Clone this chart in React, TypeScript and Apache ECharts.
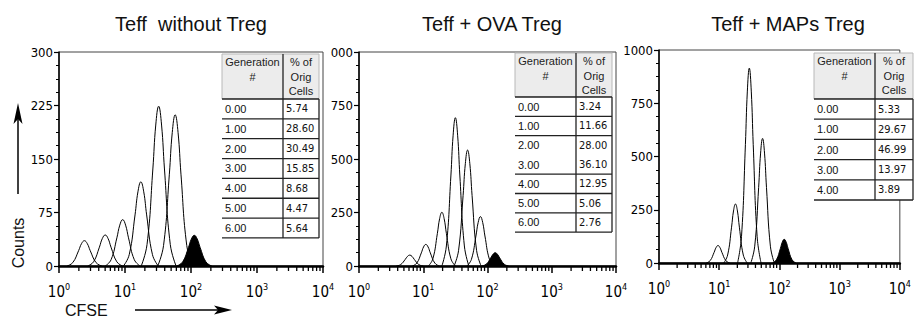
import React, { useEffect, useRef } from 'react';
import * as echarts from 'echarts';

// ---------- data ----------
const titles = ['Teff  without Treg', 'Teff + OVA Treg', 'Teff + MAPs Treg'];
const xTickExponents = [0, 1, 2, 3, 4];
const yMaxes = [300, 1000, 1000];
const yIntervals = [75, 250, 250];

// peaks: [log10(CFSE), counts]
const noTregPeaks: number[][][] = [
  [[0.121, 0], [0.209, 4.8], [0.297, 21.5], [0.341, 31.3], [0.385, 35.5], [0.429, 31.3], [0.473, 21.5], [0.561, 4.8], [0.649, 0]],
  [[0.436, 0], [0.524, 5.9], [0.612, 26.4], [0.656, 38.4], [0.70, 43.5], [0.744, 38.4], [0.788, 26.4], [0.876, 5.9], [0.964, 0]],
  [[0.701, 0], [0.789, 8.8], [0.877, 39.5], [0.921, 57.3], [0.965, 65], [1.009, 57.3], [1.053, 39.5], [1.141, 8.8], [1.229, 0]],
  [[0.976, 0], [1.064, 15.9], [1.152, 71.6], [1.196, 104], [1.24, 118], [1.284, 104], [1.328, 71.6], [1.416, 15.9], [1.504, 0]],
  [[1.246, 0], [1.334, 30.2], [1.422, 136], [1.466, 197.6], [1.51, 224], [1.554, 197.6], [1.598, 136], [1.686, 30.2], [1.774, 0]],
  [[1.496, 0], [1.584, 28.6], [1.672, 128.7], [1.716, 187], [1.76, 212], [1.804, 187], [1.848, 128.7], [1.936, 28.6], [2.024, 0]],
];
const noTregParent: number[][] = [[1.786, 0], [1.874, 5.8], [1.962, 26.1], [2.006, 37.9], [2.05, 43], [2.094, 37.9], [2.138, 26.1], [2.226, 5.8], [2.314, 0]];

const ovaPeaks: number[][][] = [
  [[0.58, 0], [0.65, 6.9], [0.72, 31], [0.755, 45], [0.79, 51], [0.825, 45], [0.86, 31], [0.93, 6.9], [1.0, 0]],
  [[0.83, 0], [0.90, 13.6], [0.97, 61.3], [1.005, 89.1], [1.04, 101], [1.075, 89.1], [1.11, 61.3], [1.18, 13.6], [1.25, 0]],
  [[1.08, 0], [1.15, 33.9], [1.22, 152.4], [1.255, 221.4], [1.29, 251], [1.325, 221.4], [1.36, 152.4], [1.43, 33.9], [1.5, 0]],
  [[1.29, 0], [1.36, 93.6], [1.43, 420.7], [1.465, 611.2], [1.5, 693], [1.535, 611.2], [1.57, 420.7], [1.64, 93.6], [1.71, 0]],
  [[1.48, 0], [1.55, 73.2], [1.62, 329], [1.655, 478], [1.69, 542], [1.725, 478], [1.76, 329], [1.83, 73.2], [1.9, 0]],
  [[1.68, 0], [1.75, 31.2], [1.82, 140.2], [1.855, 203.7], [1.89, 231], [1.925, 203.7], [1.96, 140.2], [2.03, 31.2], [2.1, 0]],
];
const ovaParent: number[][] = [[1.91, 0], [1.98, 8.4], [2.05, 37.6], [2.085, 54.7], [2.12, 62], [2.155, 54.7], [2.19, 37.6], [2.26, 8.4], [2.33, 0]];

const mapsPeaks: number[][][] = [
  [[0.785, 0], [0.85, 11.1], [0.915, 49.8], [0.9475, 72.3], [0.98, 82], [1.0125, 72.3], [1.045, 49.8], [1.11, 11.1], [1.175, 0]],
  [[1.075, 0], [1.14, 37.4], [1.205, 168.1], [1.2375, 244.3], [1.27, 277], [1.3025, 244.3], [1.335, 168.1], [1.4, 37.4], [1.465, 0]],
  [[1.305, 0], [1.37, 123.5], [1.435, 555.4], [1.4675, 807], [1.5, 915], [1.5325, 807], [1.565, 555.4], [1.63, 123.5], [1.695, 0]],
  [[1.525, 0], [1.59, 79], [1.655, 355.1], [1.6875, 516], [1.72, 585], [1.7525, 516], [1.785, 355.1], [1.85, 79], [1.915, 0]],
];
const mapsParent: number[][] = [[1.885, 0], [1.95, 15], [2.015, 67.4], [2.0475, 97.9], [2.08, 111], [2.1125, 97.9], [2.145, 67.4], [2.21, 15], [2.275, 0]];

const tableHeader1 = ['Generation', '#'];
const tableHeader2 = ['% of', 'Orig', 'Cells'];
const noTregGen = ['0.00', '1.00', '2.00', '3.00', '4.00', '5.00', '6.00'];
const noTregPct = ['5.74', '28.60', '30.49', '15.85', '8.68', '4.47', '5.64'];
const ovaGen = ['0.00', '1.00', '2.00', '3.00', '4.00', '5.00', '6.00'];
const ovaPct = ['3.24', '11.66', '28.00', '36.10', '12.95', '5.06', '2.76'];
const mapsGen = ['0.00', '1.00', '2.00', '3.00', '4.00'];
const mapsPct = ['5.33', '29.67', '46.99', '13.97', '3.89'];

// ---------- layout ----------
const grids = [
  { left: 59, top: 52, width: 264, height: 214 },
  { left: 359, top: 52, width: 257, height: 214 },
  { left: 659, top: 50, width: 260, height: 213 },
];
const titleX = [191, 492, 788];
const tables = [
  { x0: 222, x1: 283, x2: 319, top: 54, hdr: 99, rowH: 19.85, gen: noTregGen, pct: noTregPct, skip: [] as number[] },
  { x0: 515, x1: 576, x2: 612, top: 53, hdr: 97, rowH: 19.3, gen: ovaGen, pct: ovaPct, skip: [2] },
  { x0: 814, x1: 875, x2: 913, top: 53, hdr: 99, rowH: 20.2, gen: mapsGen, pct: mapsPct, skip: [] as number[] },
];

const narrow = "'Liberation Sans Narrow', 'Arial Narrow', 'DejaVu Sans Condensed', 'Liberation Sans', sans-serif";
const sans = "'Liberation Sans', Arial, sans-serif";

function buildTable(t: typeof tables[0]) {
  const els: any[] = [];
  const bottom = t.hdr + t.rowH * t.gen.length;
  els.push({ type: 'rect', shape: { x: t.x0, y: t.top, width: t.x2 - t.x0, height: t.hdr - t.top }, style: { fill: '#ececec', stroke: '#b8b8b8', lineWidth: 1 }, z: 10 });
  els.push({ type: 'rect', shape: { x: t.x0, y: t.hdr, width: t.x2 - t.x0, height: bottom - t.hdr }, style: { fill: '#fff' }, z: 10 });
  els.push({ type: 'line', shape: { x1: t.x1, y1: t.top, x2: t.x1, y2: bottom }, style: { stroke: '#222', lineWidth: 1.3 }, z: 12 });
  els.push({ type: 'line', shape: { x1: t.x2, y1: t.hdr, x2: t.x2, y2: bottom }, style: { stroke: '#222', lineWidth: 1.3 }, z: 12 });
  els.push({ type: 'line', shape: { x1: t.x0, y1: t.hdr, x2: t.x2, y2: t.hdr }, style: { stroke: '#222', lineWidth: 1.3 }, z: 12 });
  t.gen.forEach((_, i) => {
    if (t.skip.indexOf(i) >= 0) return;
    const y = t.hdr + t.rowH * (i + 1);
    els.push({ type: 'line', shape: { x1: t.x0, y1: y, x2: t.x2, y2: y }, style: { stroke: '#222', lineWidth: 1.3 }, z: 12 });
  });
  const c1 = (t.x0 + t.x1) / 2;
  const c2 = (t.x1 + t.x2) / 2;
  tableHeader1.forEach((s, i) => {
    els.push({ type: 'text', x: c1, y: t.top + 8 + i * 14.5, style: { text: s, font: `11px ${sans}`, fill: '#222', align: 'center', verticalAlign: 'middle' }, z: 13 });
  });
  tableHeader2.forEach((s, i) => {
    els.push({ type: 'text', x: c2, y: t.top + 8 + i * 14.5, style: { text: s, font: `11px ${sans}`, fill: '#222', align: 'center', verticalAlign: 'middle' }, z: 13 });
  });
  t.gen.forEach((g, i) => {
    const y = t.hdr + t.rowH * (i + 0.5);
    els.push({ type: 'text', x: t.x0 + 3, y, style: { text: g, font: `11px ${sans}`, fill: '#111', align: 'left', verticalAlign: 'middle' }, z: 13 });
    els.push({ type: 'text', x: t.x1 + 3, y, style: { text: t.pct[i], font: `11px ${narrow}`, fill: '#111', align: 'left', verticalAlign: 'middle' }, z: 13 });
  });
  return els;
}

export default function App() {
  const ref = useRef<HTMLDivElement>(null);
  useEffect(() => {
    if (!ref.current) return;
    const chart = echarts.init(ref.current, undefined, { renderer: 'svg' });

    const minorTicks: number[][] = [];
    for (let d = 0; d < 4; d++) for (let k = 2; k <= 9; k++) minorTicks.push([d + Math.log10(k), 0]);

    const panelPeaks = [noTregPeaks, ovaPeaks, mapsPeaks];
    const panelParents = [noTregParent, ovaParent, mapsParent];

    const xAxis = grids.map((_, i) => ({
      type: 'value', gridIndex: i, min: 0, max: 4, interval: 1,
      axisLine: { show: true, lineStyle: { color: '#000', width: 2.5 } },
      axisTick: { show: true, length: 7, lineStyle: { color: '#000', width: 1.5 } },
      splitLine: { show: false },
      axisLabel: {
        margin: 16,
        formatter: (v: number) => `{b|10}{s|${xTickExponents[Math.round(v)]}}`,
        rich: {
          b: { fontSize: 15, fontFamily: narrow, color: '#000', lineHeight: 17, verticalAlign: 'bottom' },
          s: { fontSize: 9, fontFamily: narrow, color: '#000', lineHeight: 10, verticalAlign: 'top' },
        },
      },
    }));
    const yAxis = grids.map((_, i) => ({
      type: 'value', gridIndex: i, min: 0, max: yMaxes[i], interval: yIntervals[i],
      axisLine: { show: true, lineStyle: { color: '#000', width: 1.5 } },
      axisTick: { show: true, length: 5, lineStyle: { color: '#000', width: 1.2 } },
      minorTick: { show: true, splitNumber: 4, length: 3, lineStyle: { color: '#000', width: 1 } },
      splitLine: { show: false },
      axisLabel: {
        margin: 6, color: '#000', fontSize: 13, fontFamily: narrow,
        formatter: (v: number) => (i === 1 && v === 1000 ? '000' : String(v)),
      },
    }));

    const series: any[] = [];
    panelPeaks.forEach((peaks, i) => {
      peaks.forEach((pk) => {
        series.push({
          type: 'line', xAxisIndex: i, yAxisIndex: i, data: pk, smooth: 0.45, symbol: 'none', silent: true,
          lineStyle: { color: '#000', width: 1 }, z: 3,
        });
      });
      series.push({
        type: 'line', xAxisIndex: i, yAxisIndex: i, data: panelParents[i], smooth: 0.45, symbol: 'none', silent: true,
        lineStyle: { color: '#000', width: 1 }, areaStyle: { color: '#000', opacity: 1 }, z: 3,
      });
      series.push({
        type: 'custom', xAxisIndex: i, yAxisIndex: i, data: minorTicks, silent: true, clip: false, z: 6,
        renderItem: (_p: any, api: any) => {
          const p = api.coord([api.value(0), 0]);
          return { type: 'line', shape: { x1: p[0], y1: p[1], x2: p[0], y2: p[1] + 5 }, style: { stroke: '#000', lineWidth: 1.3 } };
        },
      });
    });

    const graphics: any[] = [];
    titles.forEach((t, i) => {
      graphics.push({ type: 'text', x: titleX[i], y: 24, style: { text: t, font: `20px ${sans}`, fill: '#111', align: 'center', verticalAlign: 'middle' } });
    });
    tables.forEach((t) => graphics.push(...buildTable(t)));
    graphics.push({ type: 'text', x: 18, y: 243, rotation: Math.PI / 2, style: { text: 'Counts', font: `16px ${sans}`, fill: '#111', align: 'center', verticalAlign: 'middle' } });
    graphics.push({ type: 'line', shape: { x1: 18, y1: 194, x2: 18, y2: 118 }, style: { stroke: '#000', lineWidth: 1.5 } });
    graphics.push({ type: 'polygon', shape: { points: [[18, 103], [13.5, 124], [18, 119], [22.5, 124]] }, style: { fill: '#000' } });
    graphics.push({ type: 'text', x: 65, y: 310, style: { text: 'CFSE', font: `16px ${sans}`, fill: '#111', align: 'left', verticalAlign: 'middle' } });
    graphics.push({ type: 'line', shape: { x1: 135, y1: 310, x2: 222, y2: 310 }, style: { stroke: '#000', lineWidth: 1.5 } });
    graphics.push({ type: 'polygon', shape: { points: [[232, 310], [214, 305.5], [218, 310], [214, 314.5]] }, style: { fill: '#000' } });

    chart.setOption({
      animation: false,
      backgroundColor: '#fff',
      grid: grids.map((g) => ({ ...g, show: true, borderColor: '#444', borderWidth: 1, backgroundColor: 'transparent', containLabel: false })),
      xAxis, yAxis, series, graphic: graphics,
    });
    return () => chart.dispose();
  }, []);
  return <div ref={ref} style={{ position: 'fixed', left: 0, top: 0, width: 914, height: 326, background: '#fff' }} />;
}
